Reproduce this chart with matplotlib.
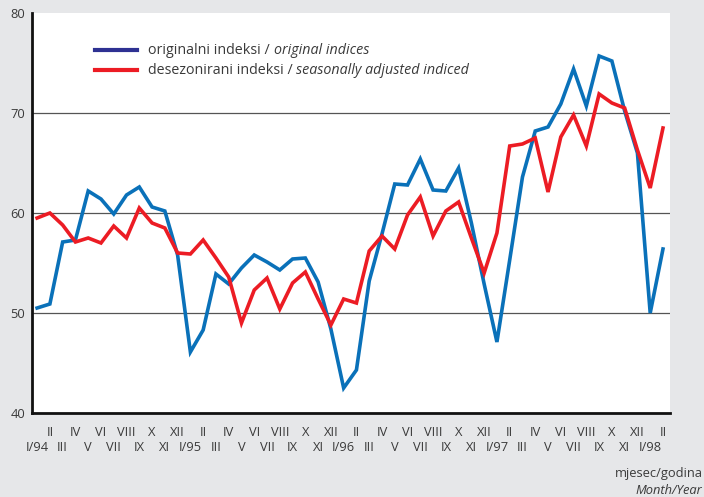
import matplotlib

matplotlib.use("Agg")
import matplotlib.pyplot as plt
from matplotlib.lines import Line2D

MONTHS = [
    "I/94", "II", "III", "IV", "V", "VI", "VII", "VIII", "IX", "X", "XI", "XII",
    "I/95", "II", "III", "IV", "V", "VI", "VII", "VIII", "IX", "X", "XI", "XII",
    "I/96", "II", "III", "IV", "V", "VI", "VII", "VIII", "IX", "X", "XI", "XII",
    "I/97", "II", "III", "IV", "V", "VI", "VII", "VIII", "IX", "X", "XI", "XII",
    "I/98", "II",
]

ORIGINAL = [
    50.5, 50.9, 57.1, 57.3, 62.2, 61.4, 59.9, 61.8, 62.6, 60.6, 60.2, 55.8,
    46.1, 48.3, 53.9, 52.9, 54.5, 55.8, 55.1, 54.3, 55.4, 55.5, 53.1, 48.4,
    42.5, 44.3, 53.2, 57.9, 62.9, 62.8, 65.4, 62.3, 62.2, 64.5, 59.0, 52.9,
    47.1, 55.3, 63.6, 68.2, 68.6, 70.9, 74.4, 70.7, 75.7, 75.2, 70.2, 66.0,
    50.0, 56.4,
]

ADJUSTED = [
    59.5, 60.0, 58.8, 57.1, 57.5, 57.0, 58.7, 57.5, 60.5, 59.0, 58.5, 56.0,
    55.9, 57.3, 55.5, 53.6, 49.0, 52.3, 53.5, 50.4, 53.0, 54.1, 51.4, 48.8,
    51.4, 51.0, 56.2, 57.7, 56.4, 59.8, 61.6, 57.7, 60.2, 61.1, 57.5, 54.0,
    58.0, 66.7, 66.9, 67.5, 62.1, 67.6, 69.8, 66.7, 71.9, 71.0, 70.5, 66.3,
    62.5, 68.5,
]

Y_TICKS = [40, 50, 60, 70, 80]
GRID_LEVELS = [50, 60, 70]

BG = "#e6e7e9"
BLUE = "#0a71b9"
RED = "#ec1c24"
NAVY = "#2e3192"
TEXT = "#3a3a3a"
FONT = ["Open Sans", "DejaVu Sans"]
FS = 9.3
FS_LEGEND = 10.3

plt.rcParams["font.family"] = FONT

fig = plt.figure(figsize=(7.04, 4.97), dpi=100, facecolor=BG)
ax = fig.add_axes([32 / 704, 84 / 497, 638 / 704, 400 / 497])
ax.set_facecolor("white")

x = list(range(len(MONTHS)))
for level in GRID_LEVELS:
    ax.axhline(level, color="#555555", lw=0.9, zorder=1)

ax.plot(x, ORIGINAL, color=BLUE, lw=2.6, solid_joinstyle="miter", zorder=3)
ax.plot(x, ADJUSTED, color=RED, lw=2.6, solid_joinstyle="miter", zorder=4)

ax.set_xlim(-0.4, 49.55)
ax.set_ylim(40, 80)

for side in ["top", "right"]:
    ax.spines[side].set_visible(False)
for side in ["left", "bottom"]:
    ax.spines[side].set_linewidth(2.0)
    ax.spines[side].set_color("#111111")

ax.set_yticks(Y_TICKS)
ax.set_yticklabels([str(v) for v in Y_TICKS])
ax.tick_params(axis="y", length=0, pad=5, labelsize=FS, labelcolor=TEXT)

# odd months on the lower row, even months on the upper row
ax.set_xticks(x[0::2])
ax.set_xticklabels(MONTHS[0::2])
ax.set_xticks(x[1::2], minor=True)
ax.set_xticklabels(MONTHS[1::2], minor=True)
ax.tick_params(axis="x", which="major", length=0, pad=20, labelsize=FS, labelcolor=TEXT)
ax.tick_params(axis="x", which="minor", length=0, pad=9, labelsize=FS, labelcolor=TEXT)

# legend drawn by hand to mix upright and italic text
legend_rows = [
    (NAVY, "originalni indeksi / ", "original indices", 50),
    (RED, "desezonirani indeksi / ", "seasonally adjusted indiced", 70),
]
for color, plain, italic, ypx in legend_rows:
    yf = 1 - ypx / 497
    fig.add_artist(Line2D([95 / 704, 137 / 704], [yf, yf], color=color, lw=3.0,
                          transform=fig.transFigure))
    t1 = fig.text(148 / 704, yf, plain, fontsize=FS_LEGEND, color=TEXT,
                  ha="left", va="center")
    fig.canvas.draw()
    bb = t1.get_window_extent()
    fig.text(bb.x1 / fig.bbox.width, yf, italic, fontsize=FS_LEGEND, color=TEXT,
             style="italic", ha="left", va="center")

fig.text(0.998, 1 - 474 / 497, "mjesec/godina", fontsize=FS, color=TEXT,
         ha="right", va="center")
fig.text(0.998, 1 - 490 / 497, "Month/Year", fontsize=FS, color=TEXT,
         style="italic", ha="right", va="center")

fig.savefig("out.png", dpi=100, facecolor=BG)
